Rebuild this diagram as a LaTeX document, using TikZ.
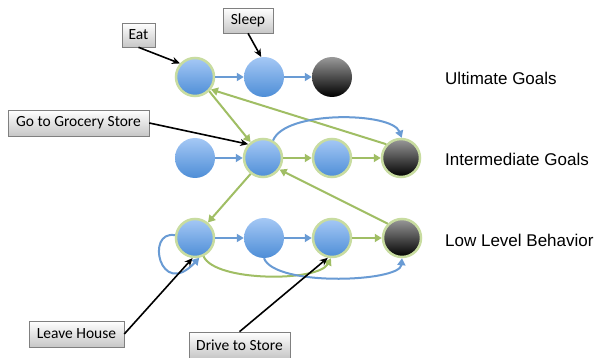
\documentclass[tikz,border=0pt]{standalone}
\usepackage{fontspec}
\setmainfont{Liberation Sans}
\newfontfamily\boxfont{Carlito}
\usetikzlibrary{arrows.meta,shadows}

\definecolor{eblue}{RGB}{105,155,212}
\definecolor{egreen}{RGB}{160,190,100}
\definecolor{ring}{RGB}{200,220,160}
\definecolor{ctop}{RGB}{165,200,245}
\definecolor{cbot}{RGB}{78,142,215}

\begin{document}
\begin{tikzpicture}[x=1pt,y=-1pt,
  goal/.style={circle, minimum size=40pt, inner sep=0pt, top color=ctop, bottom color=cbot},
  ringed/.style={draw=ring, line width=2.5pt, minimum size=38pt},
  endgoal/.style={circle, minimum size=40pt, inner sep=0pt, top color=black!40, bottom color=black},
  bl/.style={draw=eblue, line width=2pt, -{Triangle[length=7pt,width=8pt]}},
  gr/.style={draw=egreen, line width=2pt, -{Triangle[length=7pt,width=8pt]}},
  pointer/.style={draw=black, line width=1.6pt, -{Stealth[length=8pt,width=7pt]}},
  tag/.style={draw=black!50, line width=0.6pt, top color=white, bottom color=black!22,
    font=\boxfont\fontsize{15.5}{17}\selectfont, inner sep=0pt,
    drop shadow={shadow xshift=1pt,shadow yshift=-1pt,opacity=0.3}},
  level/.style={anchor=west, font=\fontsize{17}{20}\selectfont, inner sep=0pt}
]
\fill[white] (0,0) rectangle (597,358);
\useasboundingbox (0,0) rectangle (597,358);

% row 1
\node[goal,ringed] (A1) at (195,77) {};
\node[goal] (A2) at (264,77) {};
\node[endgoal] (A3) at (332,77) {};
% row 2
\node[goal] (B1) at (195,158) {};
\node[goal,ringed] (B2) at (263,158) {};
\node[goal,ringed] (B3) at (332,158) {};
\node[endgoal,ringed] (B4) at (401,158) {};
% row 3
\node[goal,ringed] (C1) at (195,238) {};
\node[goal] (C2) at (264,238) {};
\node[goal,ringed] (C3) at (332,238) {};
\node[endgoal,ringed] (C4) at (402,238) {};

% level labels
\node[level] (L1) at (445,78) {Ultimate Goals};
\node[level] (L2) at (445,159) {Intermediate Goals};
\node[level] (L3) at (445,240) {Low Level Behavior};

% tags
\node[tag, minimum width=33pt, minimum height=24pt] (eat) at (138.5,35) {Eat};
\node[tag, minimum width=50pt, minimum height=25pt] (sleep) at (248,20.5) {Sleep};
\node[tag, minimum width=141pt, minimum height=26pt] (groc) at (78.5,123) {Go to Grocery Store};
\node[tag, minimum width=95pt, minimum height=26pt] (leave) at (76.5,334) {Leave House};
\node[tag, minimum width=101pt, minimum height=26pt] (drive) at (239.5,345) {Drive to Store};

% blue straight
\draw[bl] (A1) -- (A2);
\draw[bl] (A2) -- (A3);
\draw[bl] (B1) -- (B2);
\draw[bl] (C1) -- (C2);
\draw[bl] (C2) -- (C3);
% green straight
\draw[gr] (B2) -- (B3);
\draw[gr] (B3) -- (B4);
\draw[gr] (C3) -- (C4);
\draw[gr] (A1.-45) -- (B2.128);
\draw[gr] (B4.137) -- (A1.-38);
\draw[gr] (B2.-128) -- (C1.50);
\draw[gr] (C4.135) -- (B2.-35);

% curves
\draw[bl] (B2.60) .. controls (285,110) and (392,112) .. (B4.88);
\draw[bl] (C1.172) .. controls (145,230) and (160,300) .. (C1.-78);
\draw[gr] (C1.-65) .. controls (215,282) and (318,282) .. (C3.-93);
\draw[bl] (C2.-90) .. controls (275,287) and (400,282) .. (C4.-90);

% pointers
\draw[pointer] (eat.south) -- (A1.138);
\draw[pointer] (sleep.south) -- (A2.98);
\draw[pointer] (groc.east) -- (B2.137);
\draw[pointer] (leave.east) -- (C1.-97);
\draw[pointer] (drive.north) -- (C3.-102);
\end{tikzpicture}
\end{document}
